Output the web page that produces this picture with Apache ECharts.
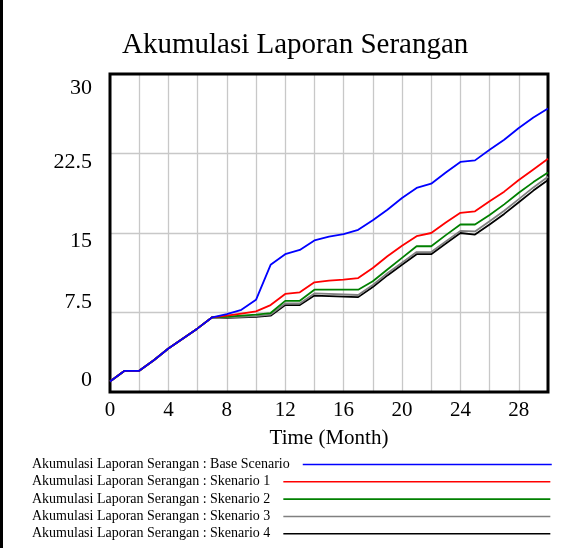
<!DOCTYPE html>
<html>
<head>
<meta charset="utf-8">
<script src="https://cdn.jsdelivr.net/npm/echarts@6/dist/echarts.min.js"></script>
<style>
  html, body { margin: 0; padding: 0; background: #fff; }
  #chart { width: 583px; height: 548px; }
</style>
</head>
<body>
<div id="chart"></div>
<script>
// ---- data ----
const months = [0,1,2,3,4,5,6,7,8,9,10,11,12,13,14,15,16,17,18,19,20,21,22,23,24,25,26,27,28,29,30];
const baseScenario = [1.0,2.0,2.0,3.0,4.1,5.05,6.0,7.05,7.35,7.75,8.7,12.0,13.0,13.4,14.3,14.65,14.9,15.3,16.2,17.2,18.3,19.25,19.65,20.7,21.7,21.85,22.85,23.8,24.9,25.9,26.75];
const skenario1 = [1.0,2.0,2.0,3.0,4.1,5.05,6.0,7.05,7.2,7.4,7.6,8.2,9.25,9.4,10.35,10.5,10.6,10.75,11.7,12.8,13.8,14.7,15.0,16.0,16.9,17.05,18.0,18.9,20.0,21.0,22.0];
const skenario2 = [1.0,2.0,2.0,3.0,4.1,5.05,6.0,7.05,7.1,7.2,7.3,7.45,8.6,8.6,9.65,9.65,9.65,9.65,10.45,11.55,12.65,13.75,13.75,14.8,15.8,15.8,16.7,17.7,18.8,19.8,20.7];
const skenario3 = [1.0,2.0,2.0,3.0,4.1,5.05,6.0,7.05,7.05,7.1,7.15,7.3,8.35,8.35,9.3,9.25,9.2,9.15,10.1,11.2,12.2,13.2,13.2,14.2,15.2,15.15,16.1,17.1,18.2,19.3,20.3];
const skenario4 = [1.0,2.0,2.0,3.0,4.1,5.05,6.0,7.05,7.0,7.05,7.1,7.2,8.2,8.2,9.1,9.05,9.0,8.95,9.9,11.0,12.0,13.0,13.0,14.0,15.0,14.85,15.8,16.8,17.9,19.0,20.0];
const seriesNames = [
  'Akumulasi Laporan Serangan : Base Scenario',
  'Akumulasi Laporan Serangan : Skenario 1',
  'Akumulasi Laporan Serangan : Skenario 2',
  'Akumulasi Laporan Serangan : Skenario 3',
  'Akumulasi Laporan Serangan : Skenario 4'
];
const yTicks = [0, 7.5, 15, 22.5, 30];
const xLabelTicks = [0, 4, 8, 12, 16, 20, 24, 28];
const titleText = 'Akumulasi Laporan Serangan';
const xAxisName = 'Time (Month)';

// ---- styling ----
const FONT = "'Liberation Serif', 'Times New Roman', serif";
const colors = ['#0000ff', '#ff0000', '#008000', '#808080', '#000000'];
const allData = [baseScenario, skenario1, skenario2, skenario3, skenario4];
const legendTops = [457.5, 474.8, 492.1, 509.5, 526.8];
const legendWidths = [249, 267, 267, 267, 267];

const chart = echarts.init(document.getElementById('chart'), null, { renderer: 'canvas' });

const yRichKey = { 0: 't0', 7.5: 't75', 15: 't15', 22.5: 't225', 30: 't30' };
const yRichBase = { fontFamily: FONT, fontSize: 22, color: '#000' };

const option = {
  backgroundColor: '#fff',
  animation: false,
  title: {
    text: titleText,
    left: 122,
    top: 31,
    padding: 0,
    textStyle: { fontFamily: FONT, fontSize: 29, fontWeight: 'normal', color: '#000' }
  },
  graphic: [
    { type: 'rect', shape: { x: 0, y: 0, width: 3, height: 548 }, style: { fill: '#000' } }
  ],
  legend: seriesNames.map((n, i) => ({
    data: [n],
    left: 32,
    top: legendTops[i],
    padding: 0,
    align: 'right',
    orient: 'horizontal',
    icon: 'rect',
    itemWidth: legendWidths[i],
    itemHeight: 1.6,
    selectedMode: false,
    textStyle: { fontFamily: FONT, fontSize: 14, color: '#000', padding: [2, 8, 0, 0] }
  })),
  grid: {
    left: 110, right: 35, top: 74, bottom: 156,
    show: true, borderColor: '#000', borderWidth: 3, containLabel: false, z: 5
  },
  xAxis: {
    type: 'value', min: 0, max: 30, interval: 2,
    name: xAxisName, nameLocation: 'middle', nameGap: 36,
    nameTextStyle: { fontFamily: FONT, fontSize: 21, color: '#000' },
    axisLine: { show: false },
    axisTick: { show: false },
    axisLabel: {
      margin: 8, fontFamily: FONT, fontSize: 21, color: '#000',
      showMaxLabel: false,
      formatter: v => (xLabelTicks.indexOf(v) >= 0 ? String(v) : '')
    },
    splitLine: { show: true, showMinLine: false, showMaxLine: false, lineStyle: { color: '#c8c8c8', width: 1.3 } }
  },
  yAxis: {
    type: 'value', min: 0, max: 30, interval: 7.5,
    axisLine: { show: false },
    axisTick: { show: false },
    axisLabel: {
      margin: 18,
      formatter: v => (yTicks.indexOf(v) >= 0 ? '{' + yRichKey[v] + '|' + v + '}' : ''),
      rich: {
        t30: Object.assign({ padding: [28, 0, 0, 0] }, yRichBase),
        t225: Object.assign({ padding: [18, 0, 0, 0] }, yRichBase),
        t15: Object.assign({ padding: [17, 0, 0, 0] }, yRichBase),
        t75: Object.assign({ padding: [0, 0, 20, 0] }, yRichBase),
        t0: Object.assign({ padding: [0, 0, 24, 0] }, yRichBase)
      }
    },
    splitLine: { show: true, showMinLine: false, showMaxLine: false, lineStyle: { color: '#c8c8c8', width: 1.3 } }
  },
  series: seriesNames.map((n, i) => ({
    name: n,
    type: 'line',
    data: months.map((m, k) => [m, allData[i][k]]),
    showSymbol: false,
    symbol: 'none',
    lineStyle: { color: colors[i], width: 1.8 },
    itemStyle: { color: colors[i] },
    z: 10 - i
  }))
};
chart.setOption(option);
</script>
</body>
</html>
